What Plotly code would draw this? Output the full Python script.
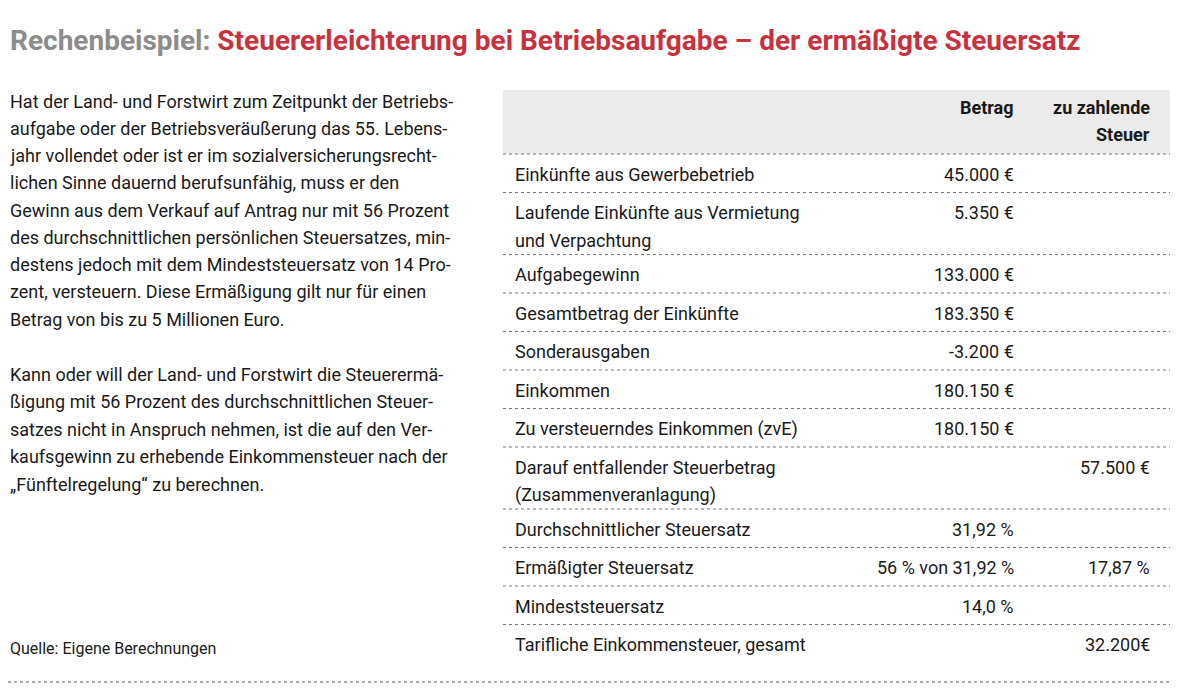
import plotly.graph_objects as go

# Tabellendaten
labels = ["Einkünfte aus Gewerbebetrieb",
          "Laufende Einkünfte aus Vermietung|und Verpachtung",
          "Aufgabegewinn", "Gesamtbetrag der Einkünfte", "Sonderausgaben",
          "Einkommen", "Zu versteuerndes Einkommen (zvE)",
          "Darauf entfallender Steuerbetrag|(Zusammenveranlagung)",
          "Durchschnittlicher Steuersatz", "Ermäßigter Steuersatz",
          "Mindeststeuersatz", "Tarifliche Einkommensteuer, gesamt"]
betrag = ["45.000 €", "5.350 €", "133.000 €", "183.350 €", "-3.200 €",
          "180.150 €", "180.150 €", "", "31,92 %", "56 % von 31,92 %",
          "14,0 %", ""]
steuer = ["", "", "", "", "", "", "", "57.500 €", "", "17,87 %", "", "32.200€"]

para1 = ["Hat der Land- und Forstwirt zum Zeitpunkt der Betriebs-",
         "aufgabe oder der Betriebsveräußerung das 55. Lebens-",
         "jahr vollendet oder ist er im sozialversicherungsrecht-",
         "lichen Sinne dauernd berufsunfähig, muss er den",
         "Gewinn aus dem Verkauf auf Antrag nur mit 56 Prozent",
         "des durchschnittlichen persönlichen Steuersatzes, min-",
         "destens jedoch mit dem Mindeststeuersatz von 14 Pro-",
         "zent, versteuern. Diese Ermäßigung gilt nur für einen",
         "Betrag von bis zu 5 Millionen Euro."]
para2 = ["Kann oder will der Land- und Forstwirt die Steuerermä-",
         "ßigung mit 56 Prozent des durchschnittlichen Steuer-",
         "satzes nicht in Anspruch nehmen, ist die auf den Ver-",
         "kaufsgewinn zu erhebende Einkommensteuer nach der",
         "„Fünftelregelung“ zu berechnen."]

FONT = "Liberation Sans Narrow, Roboto, sans-serif"
TXT = "#1a1a1a"
fig = go.Figure()
ann = []
shapes = []

def add(x, y, text, anchor="left", size=18, color=TXT):
    ann.append(dict(x=x, y=y, text=text, xanchor=anchor, yanchor="middle",
                    showarrow=False, align=anchor,
                    font=dict(family=FONT, size=size, color=color)))

# Titel
add(8, 40, "<b><span style='color:#8c8c8c'>Rechenbeispiel:</span> "
    "<span style='color:#c8323f'>Steuererleichterung bei Betriebsaufgabe – der ermäßigte Steuersatz</span></b>",
    size=28)

# gepunktete Rahmenlinien
for yy in (6, 682):
    shapes.append(dict(type="line", x0=8, x1=1170, y0=yy, y1=yy,
                       line=dict(color="#aaaaaa", width=2, dash="dot")))

# Fließtext
for i, t in enumerate(para1):
    add(8, 101 + i * 27.25, t)
for i, t in enumerate(para2):
    add(8, 374 + i * 27.5, t)
add(8, 648, "Quelle: Eigene Berechnungen", size=16)

# Tabellenkopf
shapes.append(dict(type="rect", x0=503, x1=1170, y0=90, y1=154,
                   fillcolor="#ebebeb", line=dict(width=0), layer="below"))
add(1016, 107, "<b>Betrag</b>", anchor="right")
add(1152, 107, "<b>zu zahlende</b>", anchor="right")
add(1152, 134, "<b>Steuer</b>", anchor="right")

y = 154
for lab, b, s in zip(labels, betrag, steuer):
    parts = lab.split("|")
    h = 38.5 if len(parts) == 1 else 62
    shapes.append(dict(type="line", x0=503, x1=1170, y0=y, y1=y,
                       line=dict(color="#777777", width=1, dash="dot")))
    for k, p in enumerate(parts):
        add(513, y + 20 + k * 28, p)
    add(1016, y + 20, b, anchor="right")
    add(1152, y + 20, s, anchor="right")
    y += h

# Browser-Rand (8px body margin) ausgleichen
fig.update_layout(width=1182, height=688, margin=dict(l=0, r=0, t=0, b=0),
                  paper_bgcolor="white", plot_bgcolor="white",
                  xaxis=dict(range=[8, 1190], visible=False, fixedrange=True),
                  yaxis=dict(range=[696, 8], visible=False, fixedrange=True),
                  annotations=ann, shapes=shapes, showlegend=False)
fig.write_html("out.html")
